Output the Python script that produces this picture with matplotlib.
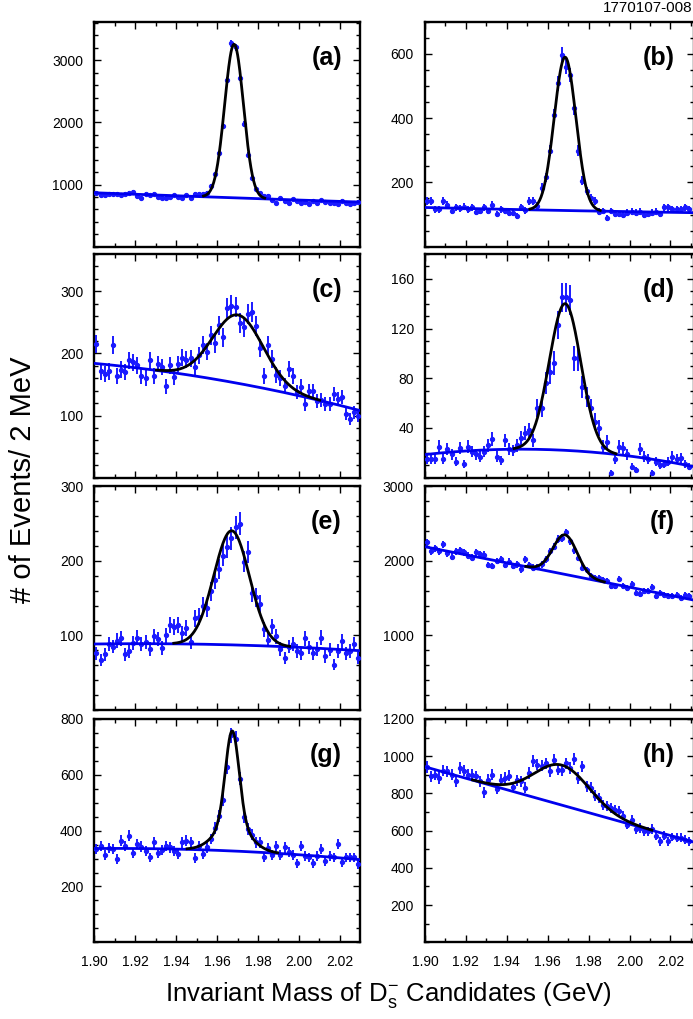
import numpy as np
import matplotlib
matplotlib.use("Agg")
import matplotlib.pyplot as plt
from matplotlib.ticker import MultipleLocator, FixedLocator, FormatStrFormatter

plt.rcParams['font.family'] = ['Liberation Sans', 'DejaVu Sans']
plt.rcParams['mathtext.fontset'] = 'custom'
plt.rcParams['mathtext.rm'] = 'Liberation Sans'
plt.rcParams['mathtext.it'] = 'Liberation Sans:italic'

# binning: 65 bins of 2 MeV starting at 1.90 GeV
bin_lo = 1.90
bin_width = 0.002
n_bins = 65

# event counts per bin
counts_a = [871, 827, 827, 843, 843, 854, 833, 854, 871, 887,
            817, 790, 854, 833, 843, 800, 790, 790, 800, 827,
            800, 779, 827, 779, 843, 854, 854, 871, 978, 1167,
            1501, 1949, 2677, 3270, 3205, 2720, 1976, 1480, 1113, 925,
            871, 817, 817, 747, 709, 779, 736, 709, 763, 736,
            709, 720, 693, 736, 709, 747, 720, 709, 709, 693,
            736, 709, 693, 709, 720]
counts_b = [143, 143, 116, 116, 143, 130, 111, 122, 120, 124,
            116, 122, 109, 111, 122, 111, 130, 101, 116, 111,
            106, 106, 96, 122, 113, 143, 143, 127, 184, 216,
            299, 409, 508, 597, 560, 534, 430, 299, 205, 174,
            153, 143, 109, 111, 88, 111, 103, 101, 99, 106,
            109, 106, 109, 99, 101, 106, 109, 101, 122, 122,
            116, 116, 116, 122, 116]
counts_c = [215, 171, 167, 171, 213, 163, 174, 170, 189, 186,
            181, 163, 161, 189, 163, 183, 178, 147, 181, 162,
            183, 193, 190, 192, 178, 197, 214, 203, 229, 216,
            245, 226, 273, 277, 275, 249, 242, 264, 267, 244,
            208, 163, 213, 191, 165, 160, 148, 175, 163, 138,
            146, 119, 139, 139, 124, 125, 119, 119, 135, 127,
            130, 103, 95, 105, 100]
counts_d = [15, 15, 15, 25, 15, 23, 19, 13, 24, 11,
            25, 21, 19, 17, 21, 26, 31, 17, 14, 30,
            23, 22, 26, 32, 36, 38, 30, 56, 56, 76,
            85, 92, 123, 145, 145, 143, 96, 96, 73, 65,
            56, 45, 40, 25, 29, 4, 15, 25, 24, 19,
            9, 6, 23, 17, 15, 4, 13, 10, 11, 13,
            17, 15, 16, 11, 9]
counts_e = [76, 67, 75, 89, 85, 93, 96, 75, 79, 90,
            97, 88, 91, 82, 99, 95, 83, 100, 114, 111,
            114, 103, 110, 91, 123, 125, 140, 137, 159, 175,
            189, 207, 219, 230, 245, 250, 199, 212, 157, 151,
            142, 108, 94, 112, 99, 82, 70, 85, 89, 79,
            76, 96, 84, 76, 82, 97, 72, 81, 61, 79,
            92, 76, 79, 88, 70]
counts_f = [2248, 2126, 2171, 2126, 2225, 2099, 2054, 2126, 2144, 2113,
            2068, 2045, 2113, 2090, 2081, 1946, 1932, 2000, 2023, 1946,
            1991, 1932, 1955, 1887, 2023, 1946, 1910, 1919, 1955, 2023,
            2126, 2189, 2293, 2306, 2383, 2261, 2144, 2045, 1910, 1874,
            1797, 1766, 1775, 1739, 1730, 1662, 1662, 1752, 1662, 1640,
            1685, 1572, 1550, 1595, 1595, 1649, 1527, 1572, 1541, 1527,
            1527, 1541, 1505, 1541, 1527]
counts_g = [334, 346, 314, 338, 334, 298, 364, 346, 382, 319,
            352, 343, 328, 304, 358, 319, 331, 346, 340, 328,
            316, 358, 364, 358, 302, 346, 316, 340, 370, 410,
            454, 510, 628, 741, 729, 586, 450, 406, 386, 358,
            358, 304, 338, 314, 346, 314, 340, 322, 314, 283,
            346, 310, 304, 283, 310, 334, 290, 310, 304, 352,
            286, 304, 304, 304, 280]
counts_h = [943, 892, 901, 883, 923, 919, 901, 865, 937, 923,
            901, 901, 892, 865, 806, 874, 901, 824, 874, 883,
            896, 835, 871, 865, 830, 910, 973, 955, 950, 961,
            919, 978, 928, 925, 961, 937, 986, 883, 946, 839,
            830, 788, 776, 740, 731, 722, 713, 704, 681, 632,
            659, 609, 614, 596, 596, 609, 573, 543, 573, 543,
            566, 561, 561, 552, 543]

# fitted background, read at three masses
bg_knots = [1.90, 1.965, 2.03]
bg_a = [868, 790, 718]
bg_b = [122, 113, 106]
bg_c = [184, 155, 108]
bg_d = [18.6, 22.3, 9.4]
bg_e = [88.5, 87.5, 79.5]
bg_f = [2189, 1838, 1482]
bg_g = [336, 328, 296]
bg_h = [943, 743, 543]

# fitted signal peak (gaussian core + optional wider tail)
peak_mean = [1.9683, 1.9685, 1.9702, 1.9685, 1.9671, 1.9685, 1.9674, 1.967]
peak_sigma = [0.0046, 0.0053, 0.0123, 0.0077, 0.0087, 0.0059, 0.0033, 0.0135]
peak_amp = [2470, 477, 110, 118, 153, 530, 330, 215]
tail_sigma = [0.01, 0.01, 0.01, 0.01, 0.01, 0.01, 0.008, 0.01]
tail_amp = [0, 0, 0, 0, 0, 0, 100, 0]

panel_names = ['(a)', '(b)', '(c)', '(d)', '(e)', '(f)', '(g)', '(h)']
panel_counts = [counts_a, counts_b, counts_c, counts_d,
                counts_e, counts_f, counts_g, counts_h]
panel_bg = [bg_a, bg_b, bg_c, bg_d, bg_e, bg_f, bg_g, bg_h]
y_max = [3620, 700, 360, 180, 300, 3000, 800, 1200]
y_major = [[1000, 2000, 3000], [200, 400, 600], [100, 200, 300],
           [40, 80, 120, 160], [100, 200, 300], [1000, 2000, 3000],
           [200, 400, 600, 800], [200, 400, 600, 800, 1000, 1200]]
y_minor = [200, 50, 20, 10, 20, 200, 50, 100]

W, H = 693, 1019
fig = plt.figure(figsize=(W / 100, H / 100), dpi=100)

row_top = [21.7, 254, 486.3, 719]
row_bot = [246.7, 477.7, 710, 942.3]
col_left = [94.4, 425]
col_right = [360, 693.5]
px_per_gev = 2045.0

centers = bin_lo + bin_width * (np.arange(n_bins) + 0.5)

for i in range(8):
    row, col = i // 2, i % 2
    x0, x1 = col_left[col], col_right[col]
    ax = fig.add_axes([x0 / W, 1 - row_bot[row] / H,
                       (x1 - x0) / W, (row_bot[row] - row_top[row]) / H])
    xmax = bin_lo + (x1 - x0) / px_per_gev

    y = np.array(panel_counts[i], dtype=float)
    ax.errorbar(centers, y, yerr=np.sqrt(y), fmt='o', ms=2.8,
                color='#1a1aff', ecolor='#1a1aff', elinewidth=1.4,
                capsize=0, zorder=3)

    xs = np.linspace(bin_lo, xmax, 600)
    coef = np.polyfit(bg_knots, panel_bg[i], 2)
    bg = np.polyval(coef, xs)
    sig = (peak_amp[i] * np.exp(-0.5 * ((xs - peak_mean[i]) / peak_sigma[i]) ** 2)
           + tail_amp[i] * np.exp(-0.5 * ((xs - peak_mean[i]) / tail_sigma[i]) ** 2))
    ax.plot(xs, bg, color='#0000ee', lw=2.0, zorder=4)
    m = sig > 0.005 * (peak_amp[i] + tail_amp[i])
    ax.plot(xs[m], (bg + sig)[m], color='black', lw=2.0, zorder=5)

    ax.set_xlim(bin_lo, xmax)
    ax.set_ylim(0, y_max[i])
    ax.xaxis.set_major_locator(MultipleLocator(0.02))
    ax.xaxis.set_minor_locator(MultipleLocator(0.01))
    ax.xaxis.set_major_formatter(FormatStrFormatter('%.2f'))
    ax.yaxis.set_major_locator(FixedLocator(y_major[i]))
    ax.yaxis.set_minor_locator(MultipleLocator(y_minor[i]))
    ax.tick_params(which='both', direction='in', top=True, right=True,
                   width=1.0, labelsize=10)
    ax.tick_params(which='major', length=5)
    ax.tick_params(which='minor', length=3)
    ax.tick_params(axis='y', pad=8)
    ax.tick_params(axis='x', pad=9)
    if row < 3:
        ax.tick_params(labelbottom=False)
    for s in ax.spines.values():
        s.set_linewidth(1.7)

    ax.text(0.932, 0.84, panel_names[i], transform=ax.transAxes,
            ha='right', va='center', fontsize=18, fontweight='bold')

fig.text(692 / W, 1 - 7.5 / H, '1770107-008', ha='right', va='center',
         fontsize=11)
fig.text(23 / W, 1 - 480 / H, '# of Events/ 2 MeV', rotation=90,
         ha='center', va='center', fontsize=21)
fig.text(388 / W, 1 - 995 / H,
         r'Invariant Mass of D$_{\rm s}^{-}$ Candidates (GeV)',
         ha='center', va='center', fontsize=18.5)

fig.savefig('out.png', dpi=100)
